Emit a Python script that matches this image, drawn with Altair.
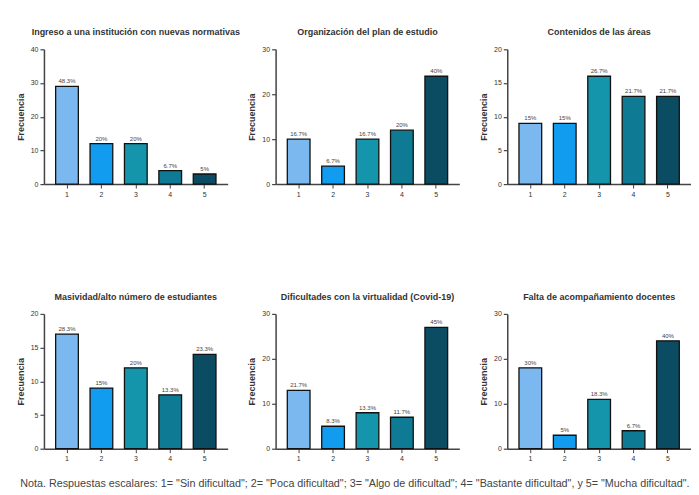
import altair as alt
import pandas as pd

cats = ["1", "2", "3", "4", "5"]
colors = ["#7bb8f0", "#129cf0", "#1595ab", "#0f7a94", "#0b4c62"]

titles = [
    "Ingreso a una institución con nuevas normativas",
    "Organización del plan de estudio",
    "Contenidos de las áreas",
    "Masividad/alto número de estudiantes",
    "Dificultades con la virtualidad (Covid-19)",
    "Falta de acompañamiento docentes",
]
freqs = [
    [29, 12, 12, 4, 3],
    [10, 4, 10, 12, 24],
    [9, 9, 16, 13, 13],
    [17, 9, 12, 8, 14],
    [13, 5, 8, 7, 27],
    [18, 3, 11, 4, 24],
]
pcts = [
    ["48.3%", "20%", "20%", "6.7%", "5%"],
    ["16.7%", "6.7%", "16.7%", "20%", "40%"],
    ["15%", "15%", "26.7%", "21.7%", "21.7%"],
    ["28.3%", "15%", "20%", "13.3%", "23.3%"],
    ["21.7%", "8.3%", "13.3%", "11.7%", "45%"],
    ["30%", "5%", "18.3%", "6.7%", "40%"],
]
ymax = [40, 30, 20, 20, 30, 30]
yticks = [
    [0, 10, 20, 30, 40],
    [0, 10, 20, 30],
    [0, 5, 10, 15, 20],
    [0, 5, 10, 15, 20],
    [0, 10, 20, 30],
    [0, 10, 20, 30],
]
note = ('Nota. Respuestas escalares: 1= "Sin dificultad"; 2= "Poca dificultad"; '
        '3= "Algo de dificultad"; 4= "Bastante dificultad", y 5= "Mucha dificultad".')

FONT = "Liberation Sans"
AX = "#444444"


def panel(i):
    df = pd.DataFrame({"cat": cats, "freq": freqs[i], "pct": pcts[i]})
    base = alt.Chart(df).encode(
        x=alt.X("cat:N", sort=cats, title=None,
                scale=alt.Scale(paddingInner=0.34, paddingOuter=0.34),
                axis=alt.Axis(labelAngle=0, labelFontSize=7, labelColor="#333",
                              domainColor=AX, domainWidth=1.5, tickColor=AX,
                              tickWidth=1, tickSize=4, labelPadding=2)),
        y=alt.Y("freq:Q", title="Frecuencia",
                scale=alt.Scale(domain=[0, ymax[i]], nice=False),
                axis=alt.Axis(values=yticks[i], grid=False, labelFontSize=7,
                              labelColor="#333", titleFontSize=9,
                              titleColor="#333", titleFontWeight="bold",
                              domainColor=AX, domainWidth=1.5, tickColor=AX,
                              tickWidth=1.2, tickSize=4, titlePadding=5)),
    )
    bars = base.mark_bar(stroke="#111111", strokeWidth=1.3).encode(
        color=alt.Color("cat:N", scale=alt.Scale(domain=cats, range=colors),
                        legend=None),
    )
    text = base.mark_text(dy=-5, fontSize=6, color="#444", font=FONT).encode(
        text="pct:N")
    return (bars + text).properties(
        width=184, height=135,
        title=alt.Title(titles[i], fontSize=9, fontWeight="bold", color="#333",
                        font=FONT, offset=8),
    )


row1 = alt.hconcat(panel(0), panel(1), panel(2), spacing=48, bounds="flush")
row2 = alt.hconcat(panel(3), panel(4), panel(5), spacing=48, bounds="flush")

chart = alt.vconcat(row1, row2, spacing=265, bounds="flush").resolve_scale(
    x="independent", y="independent"
).properties(
    title=alt.Title(note, orient="bottom", anchor="start", fontSize=10.8,
                    fontWeight="normal", color="#444", font=FONT, offset=16,
                    dx=4),
    padding={"left": 8, "top": 20, "right": 0, "bottom": 0},
).configure(font=FONT).configure_view(stroke=None)

chart.save("out.html", embed_options={"renderer": "svg", "actions": False})
